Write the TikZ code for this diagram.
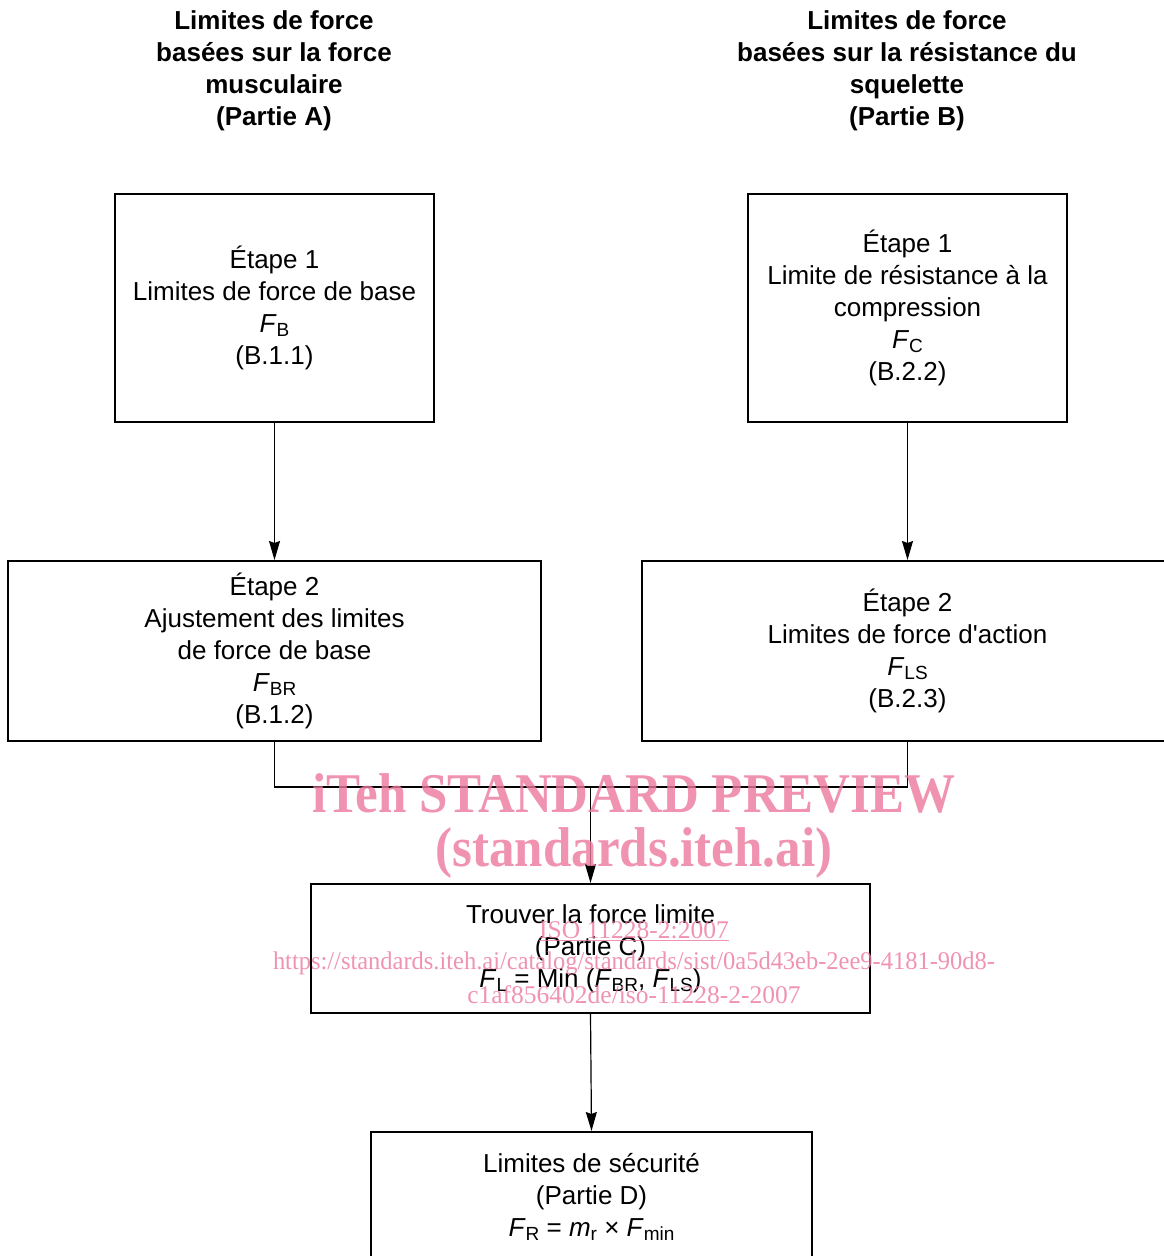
\documentclass[tikz,border=0pt]{standalone}
\usepackage{fontspec}
\setmainfont{Liberation Sans}
\newfontfamily\wmfont{Liberation Serif}
\usetikzlibrary{arrows.meta}
\definecolor{wmpink}{RGB}{236,120,158}
\newcommand{\lo}[1]{\raisebox{-0.3ex}{\fontsize{19}{19}\selectfont #1}}
\tikzset{
  >={Stealth[length=19pt,width=11pt,inset=2pt]},
  bx/.style 2 args={draw,line width=2pt,align=center,inner sep=0pt,minimum width=#1,minimum height=#2,font=\fontsize{26}{32}\selectfont},
  hd/.style={align=center,inner sep=0pt,font=\fontsize{26}{32}\selectfont\bfseries},
  wm/.style={text=wmpink,text opacity=0.8,inner sep=0pt,font=\wmfont\fontsize{25.5}{32}\selectfont},
  every picture/.style={line width=1.2pt},
}
\begin{document}
\begin{tikzpicture}[x=1pt,y=-1pt]
\useasboundingbox (0,0) rectangle (1164,1256);
\node[hd] (TA) at (274,71){Limites de force\\basées sur la force\\musculaire\\(Partie A)};
\node[hd] (TB) at (907,71){Limites de force\\basées sur la résistance du\\squelette\\(Partie B)};
\node[bx={319pt}{228pt}] (A1) at (274.5,308){Étape 1\\Limites de force de base\\\textit{F}\lo{B}\\(B.1.1)};
\node[bx={319pt}{228pt}] (B1) at (907.5,308){Étape 1\\Limite de résistance à la\\compression\\\textit{F}\lo{C}\\(B.2.2)};
\node[bx={533pt}{180pt}] (A2) at (274.5,651){Étape 2\\Ajustement des limites\\de force de base\\\textit{F}\lo{BR}\\(B.1.2)};
\node[bx={531pt}{180pt}] (B2) at (907.5,651){Étape 2\\Limites de force d\textquotesingle action\\\textit{F}\lo{LS}\\(B.2.3)};
\node[bx={559pt}{129pt}] (C) at (590.5,948.5){Trouver la force limite\\(Partie C)\\\textit{F}\lo{L} = Min (\textit{F}\lo{BR}, \textit{F}\lo{LS})};
\node[bx={441pt}{130pt}] (D) at (591.5,1197){Limites de sécurité\\(Partie D)\\\textit{F}\lo{R} = \textit{m}\lo{r} × \textit{F}\lo{min}};
\coordinate (J) at (590.5,787);
\draw[->] (A1) -- (A2);
\draw[->] (B1) -- (B2);
\draw (A2.south) |- (J); \draw (B2.south) |- (J);
\draw[->] (J) -- (C.north);
\draw[->] (C.south) -- (D.north);
% watermark
\node[wm,font=\wmfont\bfseries\fontsize{51}{51}\selectfont] (W1) at (634,793){\scalebox{1}[1.1]{iTeh STANDARD PREVIEW}};
\node[wm,font=\wmfont\bfseries\fontsize{51}{51}\selectfont] (W2) at (634,853){\scalebox{1}[1.1]{(standards.iteh.ai)}};
\node[wm] (W3) at (634,931){\underline{ISO 11228-2:2007}};
\node[wm] (W4) at (634,963){\scalebox{0.96}[1]{https://standards.iteh.ai/catalog/standards/sist/0a5d43eb-2ee9-4181-90d8-}};
\node[wm] (W5) at (634,995){c1af856402de/iso-11228-2-2007};
\end{tikzpicture}
\end{document}
